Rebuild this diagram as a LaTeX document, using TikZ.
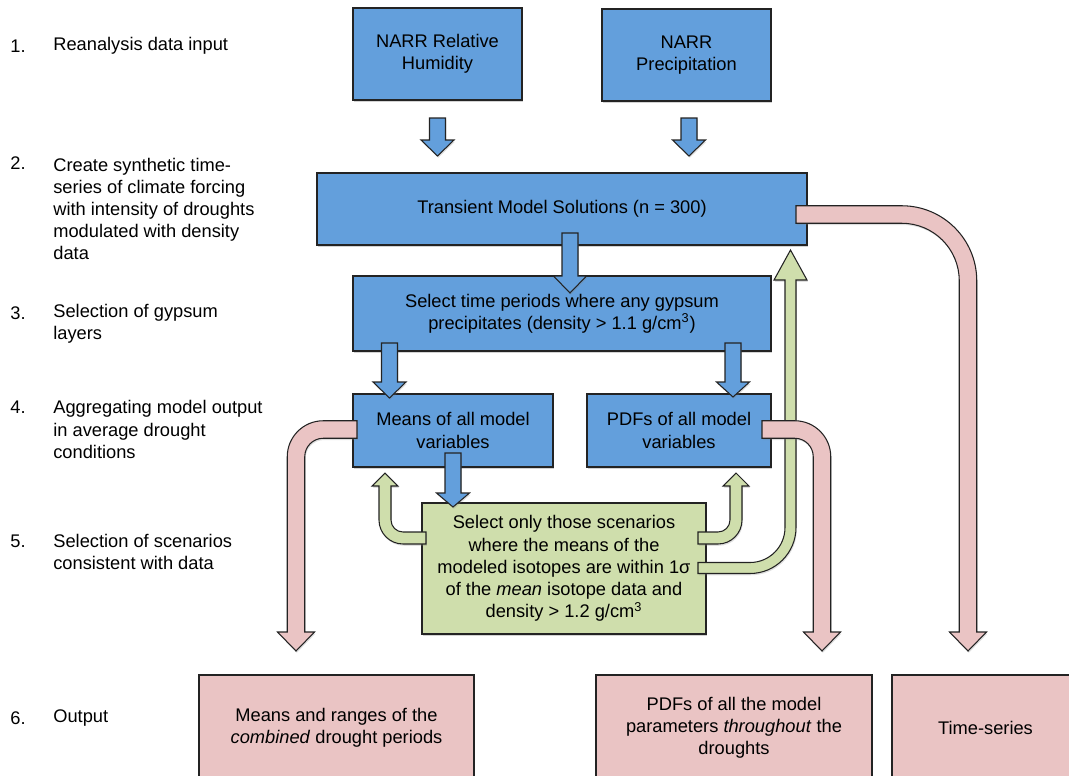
\documentclass[tikz,border=0pt]{standalone}
\usepackage{fontspec}
\setmainfont{Liberation Sans}
\usetikzlibrary{shadows}
\definecolor{boxblue}{RGB}{99,159,220}
\definecolor{boxgreen}{RGB}{207,222,172}
\definecolor{boxpink}{RGB}{234,196,196}
\definecolor{edge}{RGB}{35,35,35}
% straight block arrow pointing down: x, top, base of head, tip, style
\newcommand{\downblock}[5]{%
  \filldraw[#5] ({#1-8},{-#2}) -- ({#1+8},{-#2}) -- ({#1+8},{-#3}) -- ({#1+16.5},{-#3})
    -- (#1,{-#4}) -- ({#1-16.5},{-#3}) -- ({#1-8},{-#3}) -- cycle;}

\begin{document}
\begin{tikzpicture}[x=0.02cm, y=0.02cm, font=\fontsize{10.4}{12.6}\selectfont,
    sz/.style 2 args={minimum width=#1*0.02cm, minimum height=#2*0.02cm},
    box/.style={draw=edge, line width=0.6pt, inner sep=0pt, align=center,
        drop shadow={shadow xshift=0.5pt, shadow yshift=-1.2pt, opacity=0.35}},
    bluebox/.style={box, fill=boxblue},
    greenbox/.style={box, fill=boxgreen},
    pinkbox/.style={box, fill=boxpink},
    blk/.style={draw=edge, line width=0.6pt,
        drop shadow={shadow xshift=0.5pt, shadow yshift=-1pt, opacity=0.25}},
    lab/.style={anchor=west, align=left, inner sep=0pt}]
    \useasboundingbox (0,0) rectangle (1069,-775);

    % --- STEP LABELS (LEFT) ---
    \node[lab] (n1) at (10,-46) {1.};
    \node[lab] (l1) at (53,-46) {Reanalysis data input};
    \node[lab] (n2) at (10,-163) {2.};
    \node[lab] (l2) at (53,-209) {Create synthetic time-\\series of climate forcing\\with intensity of droughts\\modulated with density\\data};
    \node[lab] (n3) at (10,-313) {3.};
    \node[lab] (l3) at (53,-324) {Selection of gypsum\\layers};
    \node[lab] (n4) at (10,-407) {4.};
    \node[lab] (l4) at (53,-429.5) {Aggregating model output\\in average drought\\conditions};
    \node[lab] (n5) at (10,-541) {5.};
    \node[lab] (l5) at (53,-552) {Selection of scenarios\\consistent with data};
    \node[lab] (n6) at (10,-718) {6.};
    \node[lab] (l6) at (53,-718) {Output};

    % --- MODEL BOXES ---
    \node[bluebox, sz={169}{92}] (rh) at (437.5,-54) {NARR Relative\\Humidity};
    \node[bluebox, sz={169}{92}] (pr) at (686.5,-55) {NARR\\Precipitation};
    \node[bluebox, sz={490}{72}] (trans) at (562,-209) {Transient Model Solutions (n = 300)};
    \node[bluebox, sz={418}{75}] (sel) at (562,-313.5) {Select time periods where any gypsum\\precipitates (density > 1.1 g/cm\textsuperscript{3})};
    \node[bluebox, sz={200}{73}] (means) at (453,-430.5) {Means of all model\\variables};
    \node[bluebox, sz={184}{73}] (pdfs) at (679,-430.5) {PDFs of all model\\variables};
    \node[greenbox, sz={284}{131}] (scen) at (564,-568.5) {Select only those scenarios\\where the means of the\\modeled isotopes are within 1σ\\of the \textit{mean} isotope data and\\density > 1.2 g/cm\textsuperscript{3}};

    % --- OUTPUT BOXES ---
    \node[pinkbox, sz={275}{106}] (outmean) at (336.5,-728) {Means and ranges of the\\\textit{combined} drought periods};
    \node[pinkbox, sz={276}{106}] (outpdf) at (734,-728) {PDFs of all the model\\parameters \textit{throughout} the\\droughts};
    \node[pinkbox, sz={187}{106}] (outts) at (985.5,-728) {Time-series};

    % --- BLUE ARROWS ---
    \downblock{437.5}{118}{140}{156}{blk, fill=boxblue}
    \downblock{689}{118}{140}{156}{blk, fill=boxblue}
    \downblock{570}{233}{276}{293}{blk, fill=boxblue}
    \downblock{389.5}{343}{382}{398}{blk, fill=boxblue}
    \downblock{733}{343}{382}{397}{blk, fill=boxblue}
    \downblock{453}{453}{493}{507}{blk, fill=boxblue}

    % --- GREEN ARROWS (back up) ---
    \filldraw[blk, fill=boxgreen] (426,-532) -- (403,-532) arc[start angle=270, end angle=180, radius=0.24cm]
        -- (391,-486) -- (398,-486) -- (385,-473) -- (372,-486) -- (379,-486) -- (379,-520)
        arc[start angle=180, end angle=270, radius=0.48cm] -- (426,-544) -- cycle;
    \filldraw[blk, fill=boxgreen] (698,-532) -- (718,-532) arc[start angle=270, end angle=360, radius=0.24cm]
        -- (730,-486) -- (723,-486) -- (736,-473) -- (749,-486) -- (742,-486) -- (742,-520)
        arc[start angle=0, end angle=-90, radius=0.48cm] -- (698,-544) -- cycle;
    \filldraw[blk, fill=boxgreen] (698,-562.5) -- (750,-562.5) arc[start angle=270, end angle=360, radius=0.7cm]
        -- (785,-280) -- (774,-280) -- (790.5,-250) -- (807,-280) -- (796,-280) -- (796,-527.5)
        arc[start angle=0, end angle=-90, radius=0.92cm] -- (698,-573.5) -- cycle;

    % --- PINK ARROWS (to output) ---
    \filldraw[blk, fill=boxpink] (357,-420.75) -- (323.25,-420.75) arc[start angle=90, end angle=180, radius=0.72cm]
        -- (287.25,-632) -- (277.5,-632) -- (296,-651) -- (314.5,-632) -- (304.75,-632) -- (304.75,-456.75)
        arc[start angle=180, end angle=90, radius=0.37cm] -- (357,-438.25) -- cycle;
    \filldraw[blk, fill=boxpink] (762,-420.75) -- (794.75,-420.75) arc[start angle=90, end angle=0, radius=0.72cm]
        -- (830.75,-632) -- (840.5,-632) -- (822,-651) -- (803.5,-632) -- (813.25,-632) -- (813.25,-456.75)
        arc[start angle=0, end angle=90, radius=0.37cm] -- (762,-438.25) -- cycle;
    \filldraw[blk, fill=boxpink] (796,-205.75) -- (901.75,-205.75) arc[start angle=90, end angle=0, radius=1.5cm]
        -- (976.75,-632) -- (986.5,-632) -- (968,-651) -- (949.5,-632) -- (959.25,-632) -- (959.25,-280.75)
        arc[start angle=0, end angle=90, radius=1.15cm] -- (796,-223.25) -- cycle;
\end{tikzpicture}
\end{document}
